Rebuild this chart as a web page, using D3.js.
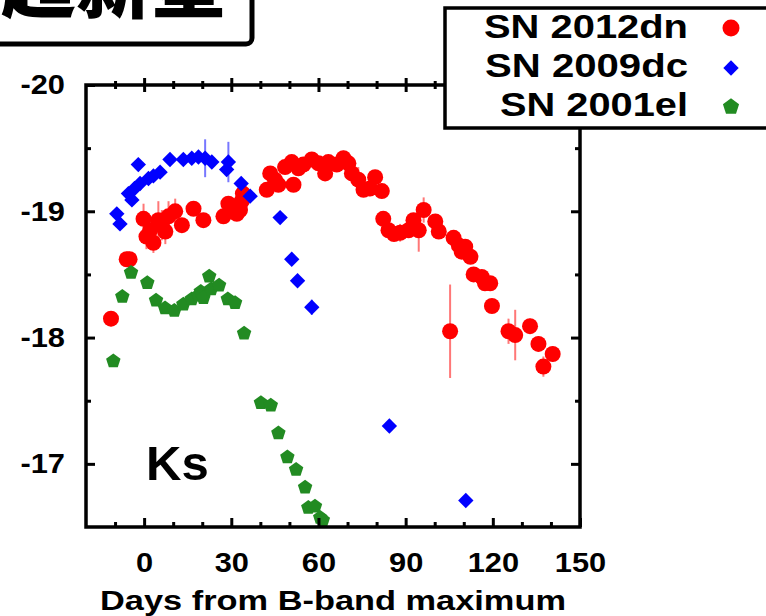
<!DOCTYPE html>
<html>
<head>
<meta charset="utf-8">
<script src="https://cdn.jsdelivr.net/npm/d3@7"></script>
<style>
  body { margin: 0; background: #fff; }
  svg text { font-family: "Liberation Sans", Arial, Helvetica, sans-serif; font-weight: bold; fill: #000; }
</style>
</head>
<body>
<div id="container"></div>
<script>
// day from B max, Ks magnitude, error
const sn2012dn = [
  [-11.4,-18.15,0.06],[-6.0,-18.62,0.04],[-5.0,-18.62,0.04],[-0.2,-18.94,0.12],[0.8,-18.80,0.10],
  [2.1,-18.85,0.12],[3.2,-18.75,0.08],[4.9,-18.93,0.15],[6.1,-18.89,0.12],[7.3,-18.84,0.10],
  [8.4,-18.96,0.12],[10.7,-19.00,0.10],[13.0,-18.89,0.05],[17.0,-19.02,0.04],[20.4,-18.93,0.04],
  [27.3,-18.96,0.05],[29.0,-19.06,0.05],[30.5,-19.04,0.04],[31.9,-18.98,0.05],[33.0,-19.01,0.05],
  [33.6,-19.08,0.04],[34.0,-19.14,0.04],[42.2,-19.17,0.04],[43.4,-19.30,0.04],[45.0,-19.25,0.04],
  [46.2,-19.21,0.04],[48.5,-19.35,0.04],[50.8,-19.39,0.04],[51.4,-19.21,0.04],[53.1,-19.34,0.04],
  [54.8,-19.37,0.04],[57.7,-19.41,0.04],[60.0,-19.38,0.04],[62.3,-19.30,0.04],[63.4,-19.39,0.04],
  [66.3,-19.37,0.04],[68.6,-19.42,0.06],[70.3,-19.38,0.05],[71.5,-19.30,0.05],[73.7,-19.25,0.10],
  [75.5,-19.17,0.05],[77.7,-19.18,0.06],[79.5,-19.27,0.05],[81.8,-19.16,0.05],[82.3,-18.94,0.05],
  [84.1,-18.85,0.05],[86.0,-18.82,0.05],[88.1,-18.83,0.07],[91.0,-18.85,0.04],[92.7,-18.93,0.05],
  [94.5,-18.85,0.17],[96.2,-19.01,0.10],[100.2,-18.92,0.04],[101.4,-18.84,0.04],[105.3,-18.05,0.37],
  [106.5,-18.79,0.04],[108.3,-18.73,0.04],[109.3,-18.68,0.04],[110.5,-18.72,0.04],[112.3,-18.64,0.04],
  [113.4,-18.50,0.04],[116.2,-18.48,0.04],[117.3,-18.43,0.04],[119.1,-18.43,0.04],[119.7,-18.25,0.04],
  [125.4,-18.05,0.10],[127.7,-18.02,0.20],[132.8,-18.09,0.06],[135.7,-17.95,0.06],[137.4,-17.77,0.08],
  [140.6,-17.87,0.06]
];
const sn2009dc = [
  [-9.4,-18.98,0.03],[-8.3,-18.90,0.03],[-5.4,-19.14,0.03],[-4.2,-19.09,0.03],[-3.3,-19.18,0.03],
  [-2.0,-19.37,0.03],[-1.4,-19.22,0.03],[1.5,-19.26,0.04],[3.2,-19.28,0.04],[5.5,-19.31,0.03],
  [8.9,-19.41,0.03],[13.5,-19.41,0.03],[16.4,-19.42,0.03],[18.7,-19.43,0.03],[21.0,-19.42,0.15],
  [23.3,-19.39,0.03],[28.4,-19.33,0.03],[29.0,-19.39,0.16],[33.4,-19.22,0.03],[36.5,-19.12,0.03],
  [46.8,-18.95,0.03],[50.8,-18.62,0.03],[52.8,-18.45,0.03],[57.7,-18.24,0.06],[84.4,-17.30,0.03],
  [110.7,-16.71,0.04]
];
const sn2001el = [
  [-10.6,-17.82],[-7.5,-18.33],[-4.5,-18.52],[1.1,-18.44],[4.1,-18.30],[7.2,-18.24],[10.4,-18.22],
  [13.5,-18.27],[16.4,-18.31],[18.7,-18.34],[19.5,-18.37],[20.4,-18.32],[22.4,-18.49],[23.1,-18.39],
  [25.8,-18.42],[28.8,-18.31],[31.3,-18.28],[34.4,-18.04],[40.2,-17.49],[43.6,-17.47],[46.2,-17.25],
  [49.3,-17.06],[52.3,-16.96],[55.4,-16.82],[56.5,-16.66],[58.8,-16.67],[60.6,-16.58],[61.5,-16.56]
];
const seriesNames = ["SN 2012dn", "SN 2009dc", "SN 2001el"];
const xTicks = [0, 30, 60, 90, 120, 150];
const xMinor = [-10, 10, 20, 40, 50, 70, 80, 100, 110, 130, 140];
const yTicks = [-20, -19, -18, -17];
const yMinor = [-19.5, -18.5, -17.5];

const w = 766, h = 616;
const x = d3.scaleLinear().domain([-20, 150]).range([86, 580]);
const y = d3.scaleLinear().domain([-20, -16.5]).range([85, 527]);

const svg = d3.select("#container").append("svg").attr("width", w).attr("height", h);

// pentagon marker
function pentagon(R) {
  let pts = [];
  for (let k = 0; k < 5; k++) {
    const a = (-90 + 72 * k) * Math.PI / 180;
    pts.push([R * Math.cos(a), R * Math.sin(a) + R * 0.1]);
  }
  return "M" + pts.map(p => p.join(",")).join("L") + "Z";
}
const diamond = d3.symbol().type(d3.symbolSquare).size(118)();

// error bars + markers
function errbars(data, color) {
  svg.append("g").selectAll("line").data(data).enter().append("line")
    .attr("x1", d => x(d[0])).attr("x2", d => x(d[0]))
    .attr("y1", d => y(d[1] - d[2])).attr("y2", d => y(d[1] + d[2]))
    .attr("stroke", color).attr("stroke-width", 2);
}
errbars(sn2012dn, "#ff7777");
svg.append("g").selectAll("circle").data(sn2012dn).enter().append("circle")
  .attr("cx", d => x(d[0])).attr("cy", d => y(d[1])).attr("r", 8).attr("fill", "#ff0000");

errbars(sn2009dc, "#7777ff");
svg.append("g").selectAll("path").data(sn2009dc).enter().append("path")
  .attr("d", diamond)
  .attr("transform", d => "translate(" + x(d[0]) + "," + y(d[1]) + ") rotate(45)")
  .attr("fill", "#0000ff");

svg.append("g").selectAll("path").data(sn2001el).enter().append("path")
  .attr("d", pentagon(7.6))
  .attr("transform", d => "translate(" + x(d[0]) + "," + y(d[1]) + ")")
  .attr("fill", "#228b22");

// axes
const fmt = d => String(d);
function styleAxis(g) {
  g.select(".domain").remove();
  g.selectAll("line").attr("stroke", "#000").attr("stroke-width", 3);
  g.selectAll("text").style("font-size", "28px").style("font-family", "'Liberation Sans', Arial, sans-serif").style("font-weight", "bold")
    .each(function() {
      // labels in the picture are a bit wider than Arial
      const l = this.getComputedTextLength();
      if (l > 0) d3.select(this).attr("textLength", l * 1.1).attr("lengthAdjust", "spacingAndGlyphs");
    });
}
svg.append("g").attr("transform", "translate(0,527)")
  .call(d3.axisBottom(x).tickValues(xTicks).tickFormat(fmt).tickSize(-9).tickPadding(25)).call(styleAxis);
svg.append("g").attr("transform", "translate(0,527)")
  .call(d3.axisBottom(x).tickValues(xMinor).tickFormat("").tickSize(-5)).call(styleAxis);
// top ticks cross the frame
svg.append("g").attr("transform", "translate(0,92)")
  .call(d3.axisTop(x).tickValues(xTicks).tickFormat("").tickSize(14)).call(styleAxis);
svg.append("g").attr("transform", "translate(0,89)")
  .call(d3.axisTop(x).tickValues(xMinor).tickFormat("").tickSize(8)).call(styleAxis);
svg.append("g").attr("transform", "translate(86,0)")
  .call(d3.axisLeft(y).tickValues(yTicks).tickFormat(fmt).tickSize(-9).tickPadding(21)).call(styleAxis);
svg.append("g").attr("transform", "translate(86,0)")
  .call(d3.axisLeft(y).tickValues(yMinor).tickFormat("").tickSize(-5)).call(styleAxis);
svg.append("g").attr("transform", "translate(580,0)")
  .call(d3.axisRight(y).tickValues(yTicks).tickFormat("").tickSize(-9)).call(styleAxis);
svg.append("g").attr("transform", "translate(580,0)")
  .call(d3.axisRight(y).tickValues(yMinor).tickFormat("").tickSize(-5)).call(styleAxis);

// frame
svg.append("rect").attr("x", 86).attr("y", 85).attr("width", 494).attr("height", 442)
  .attr("fill", "none").attr("stroke", "#000").attr("stroke-width", 3.5);

svg.append("text").attr("x", 333).attr("y", 610).attr("text-anchor", "middle")
  .attr("textLength", 466).attr("lengthAdjust", "spacingAndGlyphs")
  .style("font-size", "27px").text("Days from B-band maximum");

svg.append("text").attr("x", 146).attr("y", 480).style("font-size", "49px").text("Ks");

// legend
const lg = svg.append("g");
lg.append("rect").attr("x", 445).attr("y", 8).attr("width", 400).attr("height", 120)
  .attr("fill", "#fff").attr("stroke", "#000").attr("stroke-width", 3.5);
const legW = [204, 203, 188];
seriesNames.forEach((n, i) => {
  lg.append("text").attr("x", 688).attr("y", 38 + i * 39).attr("text-anchor", "end")
    .attr("textLength", legW[i]).attr("lengthAdjust", "spacingAndGlyphs")
    .style("font-size", "33px").text(n);
});
lg.append("circle").attr("cx", 731).attr("cy", 28).attr("r", 8.5).attr("fill", "#ff0000");
lg.append("path").attr("d", diamond).attr("transform", "translate(731,68) rotate(45)").attr("fill", "#0000ff");
lg.append("path").attr("d", pentagon(8.5)).attr("transform", "translate(731,106)").attr("fill", "#228b22");

// title box (cut at top)
svg.append("rect").attr("x", -20).attr("y", -20).attr("width", 272).attr("height", 64).attr("rx", 6)
  .attr("fill", "#fff").attr("stroke", "#000").attr("stroke-width", 5);
svg.append("text").attr("x", 226).attr("y", 12).attr("text-anchor", "end")
  .style("font-family", "'Noto Sans CJK SC', sans-serif").style("font-weight", "900")
  .style("font-size", "75px").text("超新星");
</script>
</body>
</html>
